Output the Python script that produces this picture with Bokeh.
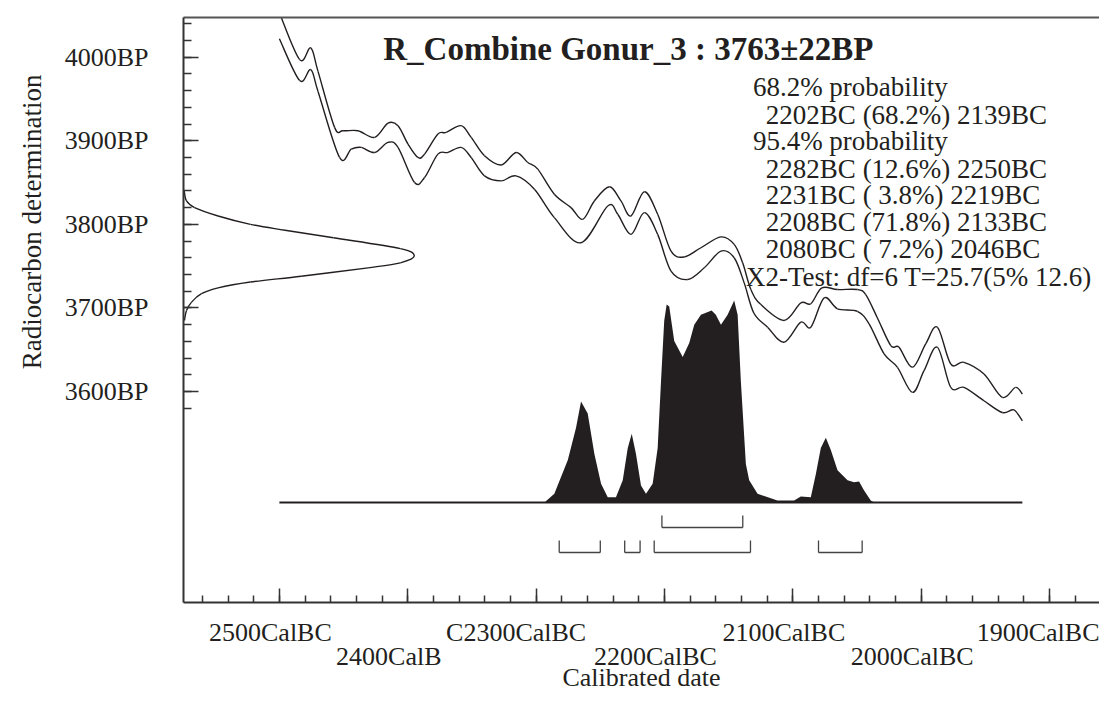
from bokeh.plotting import figure
from bokeh.models import Range1d, FixedTicker, Label, LinearAxis, Title
from bokeh.embed import file_html
from bokeh.resources import INLINE

# ---------------- data ----------------
title_text = "R_Combine Gonur_3 : 3763\u00b122BP"

summary_lines = [
    "68.2% probability",
    "2202BC (68.2%) 2139BC",
    "95.4% probability",
    "2282BC (12.6%) 2250BC",
    "2231BC ( 3.8%) 2219BC",
    "2208BC (71.8%) 2133BC",
    "2080BC ( 7.2%) 2046BC",
    "X2-Test: df=6 T=25.7(5% 12.6)",
]

x_major = [2500, 2400, 2300, 2200, 2100, 2000, 1900]
x_labels = ["2500CalBC", "2400CalB", "C2300CalBC", "2200CalBC",
            "2100CalBC", "2000CalBC", "1900CalBC"]
y_major = [3600, 3700, 3800, 3900, 4000]
y_labels = ["3600BP", "3700BP", "3800BP", "3900BP", "4000BP"]

# calibration curve, upper and lower 1-sigma envelope (cal BC, BP)
upper_year = [2500.0, 2484.2, 2475.6, 2469.9, 2457.0, 2450.4, 2438.8, 2425.8, 2415.4, 2407.6,
              2399.8, 2392.1, 2386.9, 2376.5, 2370.0, 2358.4, 2350.6, 2340.2, 2327.2, 2315.6,
              2306.5, 2298.7, 2285.8, 2272.8, 2263.7, 2254.6, 2242.9, 2233.9, 2226.1, 2215.7,
              2205.3, 2194.9, 2184.6, 2171.6, 2156.0, 2145.7, 2139.1, 2132.7, 2124.9, 2106.8,
              2093.8, 2086.0, 2077.4, 2065.2, 2049.7, 2043.2, 2034.1, 2023.7, 2017.3, 2006.8,
              1996.5, 1987.4, 1977.0, 1966.7, 1951.1, 1936.8, 1926.5, 1921.2]
upper_bp = [4053, 3997, 4011, 3983, 3916, 3912, 3912, 3904, 3921, 3918,
            3896, 3880, 3884, 3908, 3910, 3918, 3904, 3882, 3871, 3886,
            3874, 3866, 3836, 3820, 3806, 3828, 3845, 3828, 3810, 3839,
            3812, 3768, 3761, 3772, 3785, 3776, 3754, 3722, 3704, 3685,
            3706, 3705, 3724, 3722, 3722, 3716, 3688, 3655, 3653, 3629,
            3657, 3677, 3633, 3635, 3621, 3593, 3605, 3597]

lower_year = [2500.0, 2484.2, 2475.6, 2469.9, 2453.1, 2444.0, 2436.2, 2425.8, 2415.4, 2407.6,
              2394.7, 2386.9, 2376.5, 2368.7, 2358.4, 2350.6, 2340.2, 2327.2, 2315.6, 2301.3,
              2285.8, 2265.0, 2244.2, 2236.4, 2226.1, 2215.7, 2205.3, 2194.9, 2181.9, 2169.0,
              2156.0, 2145.7, 2137.9, 2130.4, 2119.7, 2106.8, 2093.8, 2086.0, 2075.6, 2065.2,
              2049.7, 2040.6, 2028.9, 2018.5, 2006.8, 1997.8, 1987.4, 1977.0, 1966.7, 1951.1,
              1936.8, 1927.8, 1921.2]
lower_bp = [4022, 3972, 3985, 3959, 3880, 3890, 3892, 3886, 3898, 3892,
            3850, 3856, 3884, 3886, 3892, 3880, 3858, 3852, 3858, 3842,
            3808, 3778, 3822, 3812, 3788, 3814, 3788, 3744, 3734, 3748,
            3768, 3760, 3730, 3694, 3677, 3659, 3683, 3677, 3712, 3699,
            3696, 3681, 3645, 3629, 3599, 3625, 3653, 3605, 3605, 3589,
            3575, 3578, 3565]

# radiocarbon date distribution (BP, relative density)
gauss_bp = [3840, 3828, 3820, 3810, 3800, 3793, 3784, 3771, 3762, 3754,
            3748, 3738, 3731, 3724, 3717, 3707, 3697, 3685]
gauss_dens = [0.003, 0.013, 0.048, 0.15, 0.29, 0.44, 0.65, 0.94, 1.0, 0.94,
              0.80, 0.51, 0.29, 0.15, 0.078, 0.035, 0.013, 0.004]

# calibrated distribution (cal BC, relative probability)
post_year = [2293.5, 2285.8, 2275.3, 2268.9, 2265.0, 2259.8, 2254.6, 2249.4, 2244.2, 2237.8,
             2232.5, 2228.6, 2225.5, 2222.2, 2218.3, 2214.4, 2209.2, 2205.3, 2202.7, 2200.2,
             2198.3, 2196.3, 2192.4, 2185.8, 2180.7, 2176.8, 2171.6, 2163.3, 2160.0, 2156.0,
             2150.8, 2145.7, 2143.0, 2140.5, 2136.6, 2134.0, 2127.5, 2112.0, 2099.0, 2093.8,
             2086.0, 2082.1, 2078.2, 2074.3, 2070.4, 2065.2, 2057.4, 2052.3, 2048.4, 2044.5,
             2039.3, 2036.7]
post_prob = [0, 0.043, 0.21, 0.37, 0.50, 0.44, 0.24, 0.093, 0.026, 0.026,
             0.11, 0.27, 0.34, 0.24, 0.084, 0.043, 0.093, 0.27, 0.60, 0.90,
             0.98, 0.97, 0.80, 0.72, 0.79, 0.88, 0.93, 0.95, 0.93, 0.88,
             0.93, 1.0, 0.93, 0.60, 0.19, 0.11, 0.043, 0.01, 0.01, 0.03,
             0.026, 0.14, 0.27, 0.32, 0.26, 0.16, 0.11, 0.10, 0.104, 0.06,
             0.01, 0]

# highest probability ranges (cal BC)
range68_start = [2202]
range68_end = [2139]
range95_start = [2282, 2231, 2208, 2080]
range95_end = [2250, 2219, 2133, 2046]

# ---------------- layout ----------------
FONT = "Liberation Serif"
INK = "#231f20"
AX = "#333333"

X_LEFT, X_RIGHT = 2574.7, 1861.1
Y_BOTTOM, Y_TOP = 3347.7, 4047.4
FL, FT, FW, FH = 182, 17, 917, 585  # frame position in pixels
W, H = 1099, 712


def xd(px):
    return X_LEFT + (px - FL) * (X_RIGHT - X_LEFT) / FW


def yd(py):
    return Y_TOP - (py - FT) * (Y_TOP - Y_BOTTOM) / FH


GAUSS_W = xd(FL) - xd(FL + 231)
POST_BASE = yd(502)
POST_H = yd(300) - POST_BASE
B68_Y, B68_T = yd(527), yd(515)
B95_Y, B95_T = yd(552), yd(540)


def smooth(xs, ys):
    """Catmull-Rom control points so the curve is drawn with Bezier segments."""
    n = len(xs)
    out = {k: [] for k in ("x0", "y0", "x1", "y1", "cx0", "cy0", "cx1", "cy1")}
    for i in range(n - 1):
        xm, ym = (xs[i - 1], ys[i - 1]) if i > 0 else (xs[i], ys[i])
        xp, yp = (xs[i + 2], ys[i + 2]) if i + 2 < n else (xs[i + 1], ys[i + 1])
        out["x0"].append(xs[i]); out["y0"].append(ys[i])
        out["x1"].append(xs[i + 1]); out["y1"].append(ys[i + 1])
        out["cx0"].append(xs[i] + (xs[i + 1] - xm) / 6)
        out["cy0"].append(ys[i] + (ys[i + 1] - ym) / 6)
        out["cx1"].append(xs[i + 1] - (xp - xs[i]) / 6)
        out["cy1"].append(ys[i + 1] - (yp - ys[i]) / 6)
    return out


p = figure(width=W, height=H,
           x_range=Range1d(X_LEFT, X_RIGHT), y_range=Range1d(Y_BOTTOM, Y_TOP),
           output_backend="svg", toolbar_location=None,
           min_border_left=FL, min_border_right=W - FL - FW, min_border_top=FT,
           min_border_bottom=H - FT - FH)
p.xgrid.visible = False
p.ygrid.visible = False
p.outline_line_color = None
p.background_fill_color = "white"
p.border_fill_color = "white"

# bottom axis line with the 20-year ticks
xa = p.xaxis[0]
xa.ticker = FixedTicker(ticks=[], minor_ticks=list(range(2560, 1879, -20)))
xa.major_label_standoff = 0
xa.minor_tick_in, xa.minor_tick_out = 7, 0
xa.major_tick_in, xa.major_tick_out = 0, 0
xa.axis_line_width = 2
xa.axis_line_color = AX
xa.minor_tick_line_color = AX
xa.minor_tick_line_width = 1.5

# longer 100-year ticks
xm = LinearAxis(ticker=FixedTicker(ticks=[], minor_ticks=x_major),
                minor_tick_in=14, minor_tick_out=0, major_tick_in=0, major_tick_out=0,
                minor_tick_line_color=AX, minor_tick_line_width=1.5,
                axis_line_color=None, major_label_standoff=0)

# staggered tick labels: upper row and lower row
shift_px = [9, 19, 20, 9, 9, 9, 9]
lab_ticks = [t + s * (X_LEFT - X_RIGHT) / FW for t, s in zip(x_major, shift_px)]


def label_axis(idx, standoff):
    ticks = [lab_ticks[i] for i in idx]
    return LinearAxis(ticker=FixedTicker(ticks=ticks, minor_ticks=[]),
                      major_label_overrides={lab_ticks[i]: x_labels[i] for i in idx},
                      major_tick_line_color=None, minor_tick_line_color=None,
                      major_tick_in=0, major_tick_out=0,
                      axis_line_color=None,
                      major_label_text_font=FONT, major_label_text_font_size="26px",
                      major_label_text_color=INK, major_label_standoff=standoff)


x_up = label_axis([0, 2, 4, 6], 15)
x_low = label_axis([1, 3, 5], -8)
x_low.axis_label = "Calibrated date"
x_low.axis_label_text_font = FONT
x_low.axis_label_text_font_style = "normal"
x_low.axis_label_text_font_size = "26px"
x_low.axis_label_text_color = INK
x_low.axis_label_standoff = -11

p.below = [xa, xm, x_up, x_low]

# top frame line
xt = LinearAxis(ticker=FixedTicker(ticks=[], minor_ticks=[]),
                major_tick_line_color=None, minor_tick_line_color=None,
                major_label_standoff=0,
                axis_line_color="#555555", axis_line_width=2)
p.add_layout(xt, "above")

ya = p.yaxis[0]
ya.ticker = FixedTicker(ticks=y_major, minor_ticks=list(range(3580, 4041, 20)))
ya.major_label_overrides = dict(zip(y_major, y_labels))
ya.major_label_text_font = FONT
ya.major_label_text_font_size = "26px"
ya.major_label_text_color = INK
ya.major_label_standoff = 35
ya.major_tick_in, ya.major_tick_out = 15, 0
ya.minor_tick_in, ya.minor_tick_out = 8, 0
ya.axis_line_width = 2
ya.axis_line_color = AX
ya.major_tick_line_color = AX
ya.minor_tick_line_color = AX
ya.major_tick_line_width = 1.5
ya.minor_tick_line_width = 1.5

p.add_layout(Title(text="Radiocarbon determination", text_font=FONT,
                   text_font_size="27px", text_font_style="normal", text_color=INK,
                   align="right", offset=57, standoff=29), "left")

# calibration curve
p.bezier(line_color=INK, line_width=1.4, **smooth(upper_year, upper_bp))
p.bezier(line_color=INK, line_width=1.4, **smooth(lower_year, lower_bp))

# radiocarbon date distribution on the y axis
p.bezier(line_color=INK, line_width=1.4,
         **smooth([X_LEFT - d * GAUSS_W for d in gauss_dens], gauss_bp))

# calibrated distribution
p.varea(x=post_year, y1=[POST_BASE] * len(post_year),
        y2=[POST_BASE + v * POST_H for v in post_prob], fill_color=INK)
p.line([upper_year[0], upper_year[-1]], [POST_BASE, POST_BASE], line_color=INK, line_width=2.2)

# range brackets
for starts, ends, yb, yt in [(range68_start, range68_end, B68_Y, B68_T),
                             (range95_start, range95_end, B95_Y, B95_T)]:
    p.segment(x0=starts, y0=[yb] * len(starts), x1=ends, y1=[yb] * len(starts),
              line_color="#444444", line_width=1.3)
    p.segment(x0=starts + ends, y0=[yb] * (2 * len(starts)),
              x1=starts + ends, y1=[yt] * (2 * len(starts)),
              line_color="#444444", line_width=1.3)

# title
p.add_layout(Label(x=xd(382), y=yd(48), text=title_text, text_font=FONT,
                   text_font_style="bold", text_font_size="33px", text_color=INK,
                   text_align="left", text_baseline="alphabetic"))

# summary text
indent = [0, 13, 0, 13, 13, 13, 13, -7]
anchors = [86, 114, 140, 168, 194, 221, 248, 276]
for txt, ind, an in zip(summary_lines, indent, anchors):
    p.add_layout(Label(x=xd(752 + ind), y=yd(an), text=txt, text_font=FONT,
                       text_font_size="27px", text_color=INK,
                       text_align="left", text_baseline="alphabetic"))

open("out.html", "w").write(file_html(p, INLINE))
